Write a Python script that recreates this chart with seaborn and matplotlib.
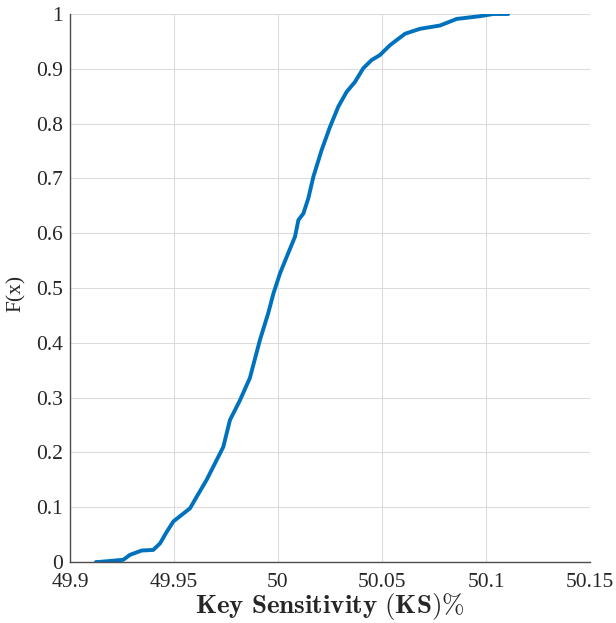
import matplotlib
matplotlib.use("Agg")
import matplotlib.pyplot as plt
import seaborn as sns
import pandas as pd

# Empirical CDF of the key sensitivity measurements
ks_percent = [49.9125, 49.9136, 49.9256, 49.9288, 49.9345, 49.9400, 49.9433, 49.9465,
              49.9497, 49.9537, 49.9577, 49.9609, 49.9657, 49.9705, 49.9737, 49.9769,
              49.9817, 49.9865, 49.9913, 49.9953, 49.9978, 50.0010, 50.0042, 50.0082,
              50.0098, 50.0122, 50.0146, 50.0170, 50.0210, 50.0250, 50.0290, 50.0330,
              50.0370, 50.0410, 50.0450, 50.0490, 50.0538, 50.0611, 50.0683, 50.0779,
              50.0859, 50.0971, 50.1035, 50.1107]
cdf_values = [0.000, 0.000, 0.004, 0.013, 0.021, 0.022, 0.034, 0.055,
              0.074, 0.086, 0.098, 0.119, 0.150, 0.186, 0.210, 0.259,
              0.295, 0.336, 0.405, 0.454, 0.490, 0.527, 0.557, 0.594,
              0.624, 0.636, 0.664, 0.703, 0.752, 0.794, 0.831, 0.858,
              0.876, 0.901, 0.916, 0.925, 0.943, 0.964, 0.973, 0.979,
              0.991, 0.996, 1.000, 1.000]

x_ticks = [49.9, 49.95, 50.0, 50.05, 50.1, 50.15]
x_tick_labels = ["49.9", "49.95", "50", "50.05", "50.1", "50.15"]
y_ticks = [0, 0.1, 0.2, 0.3, 0.4, 0.5, 0.6, 0.7, 0.8, 0.9, 1.0]
y_tick_labels = ["0", "0.1", "0.2", "0.3", "0.4", "0.5", "0.6", "0.7", "0.8", "0.9", "1"]

df = pd.DataFrame({"KS": ks_percent, "F": cdf_values})

sns.set_style("white")
plt.rcParams["font.family"] = ["Liberation Serif", "DejaVu Serif"]
plt.rcParams["mathtext.fontset"] = "cm"

fig = plt.figure(figsize=(6.16, 6.23), dpi=100)
ax = fig.add_axes([70 / 616, 1 - 562 / 623, 520 / 616, 548 / 623])

sns.lineplot(data=df, x="KS", y="F", ax=ax, color="#0072BD", linewidth=2.8,
             estimator=None, sort=False)

ax.set_xlim(49.9, 50.15)
ax.set_ylim(0, 1)
ax.set_xticks(x_ticks)
ax.set_xticklabels(x_tick_labels)
ax.set_yticks(y_ticks)
ax.set_yticklabels(y_tick_labels)

ax.grid(True, color="#dcdcdc", linewidth=0.8)
ax.set_axisbelow(True)
for side in ("top", "right"):
    ax.spines[side].set_visible(False)
for side in ("left", "bottom"):
    ax.spines[side].set_color("#4d4d4d")
    ax.spines[side].set_linewidth(1.0)

ax.tick_params(axis="both", direction="in", length=5, width=0.8, color="#4d4d4d",
               labelsize=15.5, labelcolor="#262626")
ax.tick_params(axis="x", pad=8)
ax.tick_params(axis="y", pad=5)

ax.set_xlabel(r"$\mathbf{Key\ Sensitivity\ (KS)\%}$", fontsize=19.5, color="#262626")
ax.xaxis.set_label_coords(0.5, -0.053)
ax.set_ylabel("F(x)", fontsize=15.5, color="#262626")
ax.yaxis.set_label_coords(-0.084, 0.49)

fig.savefig("out.png", dpi=100)
